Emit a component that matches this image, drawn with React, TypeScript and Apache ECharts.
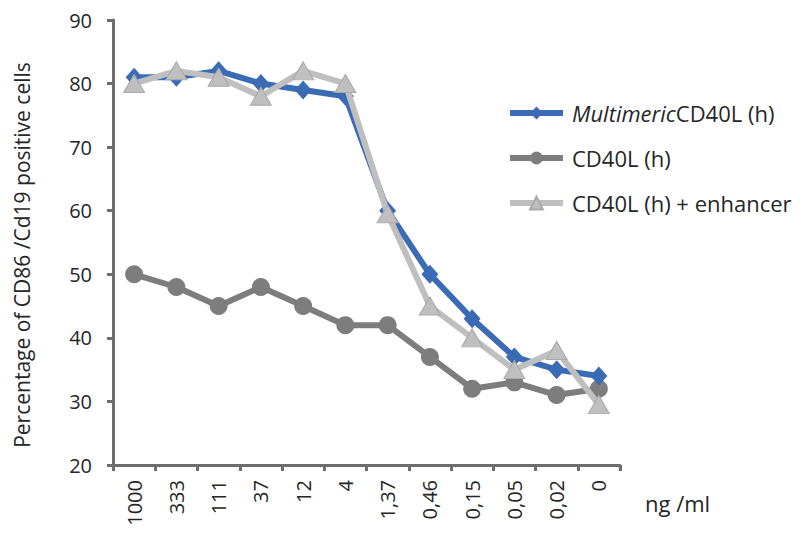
import React, { useEffect, useRef } from "react";
import * as echarts from "echarts";

const categories = ["1000", "333", "111", "37", "12", "4", "1,37", "0,46", "0,15", "0,05", "0,02", "0"];
const multimeric = [81, 81, 82, 80, 79, 78, 60, 50, 43, 37, 35, 34];
const cd40l = [50, 48, 45, 48, 45, 42, 42, 37, 32, 33, 31, 32];
const enhancer = [80, 82, 81, 78, 82, 80, 59.5, 45, 40, 35, 38, 29.5];
const seriesNames = ["Multimeric CD40L (h)", "CD40L (h)", "CD40L (h) + enhancer"];
const yAxisTitle = "Percentage of CD86 /Cd19 positive cells";
const xUnit = "ng /ml";

const FONT = "'Open Sans', 'DejaVu Sans', sans-serif";
const TXT = "#262626";
const AXIS = "#6e6e6e";

export default function App() {
  const ref = useRef<HTMLDivElement>(null);
  useEffect(() => {
    if (!ref.current) return;
    const chart = echarts.init(ref.current, undefined, { renderer: "svg" });
    chart.setOption({
      animation: false,
      backgroundColor: "#ffffff",
      textStyle: { fontFamily: FONT },
      grid: { left: 113, right: 183, top: 20, bottom: 81, containLabel: false },
      legend: {
        orient: "vertical",
        left: 502,
        top: 95,
        itemWidth: 53,
        itemHeight: 16,
        itemGap: 19,
        data: seriesNames,
        lineStyle: { width: 6 },
        formatter: (name: string) =>
          name === seriesNames[0] ? "{p| }{i|Multimeric}{n|CD40L (h)}" : "{p| }{n|" + name + "}",
        textStyle: {
          fontFamily: FONT,
          fontSize: 22,
          color: TXT,
          lineHeight: 26,
          rich: {
            p: { width: 4, fontSize: 22, lineHeight: 26 },
            i: { fontStyle: "italic", fontSize: 22, color: TXT, fontFamily: FONT, lineHeight: 26 },
            n: { fontSize: 22, color: TXT, fontFamily: FONT, lineHeight: 26 },
          },
        },
      },
      xAxis: {
        type: "category",
        data: categories,
        boundaryGap: true,
        axisLine: { lineStyle: { color: AXIS, width: 3 } },
        axisTick: { show: true, length: 6, lineStyle: { color: AXIS, width: 3 } },
        axisLabel: { rotate: 90, fontSize: 20, color: TXT, margin: 15, fontFamily: FONT },
        splitLine: { show: false },
      },
      yAxis: {
        type: "value",
        min: 20,
        max: 90,
        interval: 10,
        axisLine: { show: true, lineStyle: { color: AXIS, width: 3 } },
        axisTick: { show: true, length: 6, lineStyle: { color: AXIS, width: 3 } },
        axisLabel: { fontSize: 20, color: TXT, margin: 21, fontFamily: FONT },
        splitLine: { show: false },
      },
      graphic: [
        {
          type: "text",
          x: 22,
          y: 255,
          rotation: Math.PI / 2,
          style: {
            text: yAxisTitle,
            fontSize: 21,
            fill: TXT,
            fontFamily: FONT,
            textAlign: "center",
            textVerticalAlign: "middle",
          },
        },
        {
          type: "text",
          left: 645,
          top: 492,
          style: { text: xUnit, fontSize: 22, fill: TXT, fontFamily: FONT },
        },
      ],
      series: [
        {
          name: seriesNames[0],
          type: "line",
          data: multimeric,
          symbol: "diamond",
          symbolSize: [17, 19],
          lineStyle: { color: "#3b6bb5", width: 6 },
          itemStyle: { color: "#3b6bb5" },
          z: 3,
        },
        {
          name: seriesNames[1],
          type: "line",
          data: cd40l,
          symbol: "circle",
          symbolSize: 18,
          lineStyle: { color: "#7d7d7d", width: 6 },
          itemStyle: { color: "#7d7d7d" },
          z: 2,
        },
        {
          name: seriesNames[2],
          type: "line",
          data: enhancer,
          symbol: "triangle",
          symbolSize: [21, 18],
          lineStyle: { color: "#bfbfbf", width: 6 },
          itemStyle: { color: "#bfbfbf", borderColor: "#a9a9a9", borderWidth: 1 },
          z: 4,
        },
      ],
    });
    return () => chart.dispose();
  }, []);
  return (
    <div
      ref={ref}
      style={{ position: "absolute", left: 0, top: 0, width: 803, height: 546 }}
    />
  );
}
